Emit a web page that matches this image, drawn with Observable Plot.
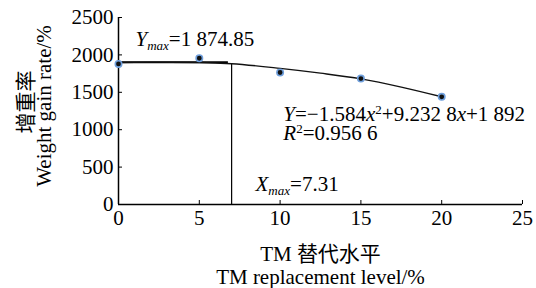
<!DOCTYPE html>
<html>
<head>
<meta charset="utf-8">
<script src="https://cdn.jsdelivr.net/npm/d3@7"></script>
<script src="https://cdn.jsdelivr.net/npm/@observablehq/plot@0.6"></script>
<style>
  html, body { margin: 0; padding: 0; background: #fff; }
  #chart svg { display: block; }
  #chart svg, #chart svg text { font-family: "Liberation Serif", "Noto Sans CJK SC", serif !important; }
</style>
</head>
<body>
<div id="chart"></div>
<script>
// Observed data (TM replacement level %, weight gain rate %)
const levels = [0, 5, 10, 15, 20];
const gainRates = [1880, 1955, 1765, 1684, 1440];

// Fitted curve
const curveX = [0, 2.5, 5, 7, 10, 12.5, 15, 17.5, 20];
const curveY = [1898, 1903, 1899, 1882, 1820, 1756, 1680, 1570, 1440];

// Optimum markers
const xMaxLine = [7];
const yMaxLevel = [1902];

// Ticks
const xTicks = [0, 5, 10, 15, 20, 25];
const yTicks = [0, 500, 1000, 1500, 2000, 2500];

// Titles
const yTitleCn = "增重率";
const yTitleEn = "Weight gain rate/%";
const xTitleCn = "TM 替代水平";
const xTitleEn = "TM replacement level/%";

// Annotations: segments [text, style]
const annYmax = [["Y","i"],["max","sub"],["=1 874.85",""]];
const annEq = [["Y","i"],["=−1.584",""],["x","i"],["2","sup"],["+9.232 8",""],["x","i"],["+1 892",""]];
const annR2 = [["R","i"],["2","sup"],["=0.956 6",""]];
const annXmax = [["X","i"],["max","sub"],["=7.31",""]];

const points = levels.map((x, i) => ({x, y: gainRates[i]}));
const curve = curveX.map((x, i) => ({x, y: curveY[i]}));
const annotations = [
  {x: 1.05, y: 2211, segs: annYmax},
  {x: 10.2, y: 1209, segs: annEq},
  {x: 10.2, y: 955, segs: annR2},
  {x: 8.48, y: 273, segs: annXmax}
];

const FS = 21;

const chart = Plot.plot({
  width: 536,
  height: 288,
  marginLeft: 118,
  marginRight: 14,
  marginTop: 17,
  marginBottom: 84,
  style: {fontSize: FS + "px", color: "#000", background: "#fff"},
  x: {domain: [0, 25]},
  y: {domain: [0, 2500]},
  marks: [
    Plot.axisX({ticks: xTicks, tickSize: -4, tickPadding: 10, label: null, tickFormat: d => String(d), fontSize: FS}),
    Plot.axisY({ticks: yTicks, tickSize: -4, tickPadding: 9, label: null, tickFormat: d => String(d), fontSize: FS}),
    Plot.ruleX([0], {stroke: "#000", strokeWidth: 1.5}),
    Plot.ruleY([0], {stroke: "#000", strokeWidth: 1.5}),
    Plot.ruleY(yMaxLevel, {x1: -0.1, x2: 6.8, stroke: "#000", strokeWidth: 2.2}),
    Plot.ruleX(xMaxLine, {y1: 0, y2: 1885, stroke: "#000", strokeWidth: 1.2}),
    Plot.line(curve, {x: "x", y: "y", curve: "monotone-x", stroke: "#111", strokeWidth: 1.4}),
    Plot.dot(points, {x: "x", y: "y", r: 3.2, fill: "#111", stroke: "#6f9fdc", strokeWidth: 1.6}),
    Plot.text(annotations, {x: "x", y: "y", text: d => d.segs.map(s => s[0]).join(""), textAnchor: "start", lineAnchor: "middle", fontSize: FS, fill: "#000", className: "rich"}),
    Plot.text([yTitleCn], {frameAnchor: "left", dx: -92, dy: -9, rotate: -90, textAnchor: "middle", lineAnchor: "middle", text: d => d, fontSize: FS, fill: "#000"}),
    Plot.text([yTitleEn], {frameAnchor: "left", dx: -74, dy: -5, rotate: -90, textAnchor: "middle", lineAnchor: "middle", text: d => d, fontSize: FS, fill: "#000"}),
    Plot.text([xTitleCn], {frameAnchor: "bottom", dy: 50, textAnchor: "middle", lineAnchor: "middle", text: d => d, fontSize: FS, fill: "#000"}),
    Plot.text([xTitleEn], {frameAnchor: "bottom", dy: 73, textAnchor: "middle", lineAnchor: "middle", text: d => d, fontSize: FS, fill: "#000"})
  ]
});

document.getElementById("chart").appendChild(chart);

// Rich text formatting (italic, sub/superscripts)
d3.select(chart).selectAll("g.rich text").each(function(_, i) {
  const segs = annotations[i].segs;
  const t = d3.select(this);
  t.text(null);
  segs.forEach(([txt, st]) => {
    const ts = t.append("tspan").text(txt);
    if (st === "i") ts.attr("font-style", "italic");
    if (st === "sub") ts.attr("font-style", "italic").attr("font-size", 13).attr("baseline-shift", "-4");
    if (st === "sup") ts.attr("font-size", 13).attr("baseline-shift", "7");
  });
});
</script>
</body>
</html>
